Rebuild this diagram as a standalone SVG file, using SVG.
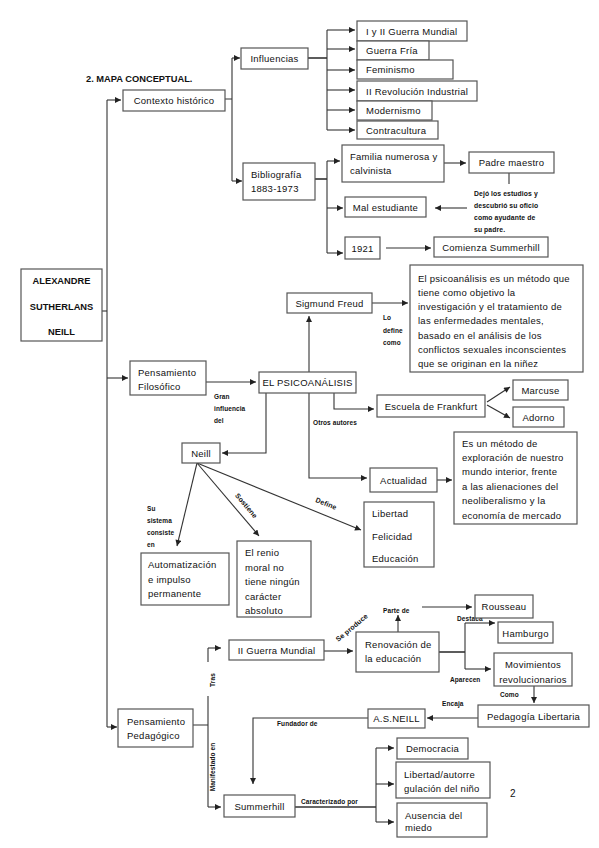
<svg xmlns="http://www.w3.org/2000/svg" width="599" height="848" viewBox="0 0 599 848">
<defs>
<marker id="ah" viewBox="0 0 10 10" refX="10" refY="5" markerWidth="7" markerHeight="6" orient="auto" markerUnits="userSpaceOnUse"><path d="M0,0 L10,5 L0,10 z" fill="#222"/></marker>
<style>
rect{fill:#fff;stroke:#555;stroke-width:1.2}
text{font-family:"Liberation Sans",Arial,sans-serif;font-size:9.5px;fill:#111;letter-spacing:0.25px}
.c{text-anchor:middle}
.b{font-weight:bold}
.lb{font-weight:bold;font-size:6.5px;letter-spacing:0.1px}
.nt{font-weight:bold;font-size:6.8px;letter-spacing:0.1px}
#connectors path,#connectors line{fill:none;stroke:#333;stroke-width:1.1}
.a{marker-end:url(#ah)}
</style>
</defs>
<rect x="0" y="0" width="599" height="848" style="fill:#fff;stroke:none"/>
<text x="86" y="82" class="b" style="font-size:9.3px;letter-spacing:0">2. MAPA CONCEPTUAL.</text>

<g id="connectors">
<path d="M102,311 H107"/>
<path d="M107,100 V727"/>
<path class="a" d="M107,100 H121"/>
<path class="a" d="M107,378 H128"/>
<path class="a" d="M107,727 H117"/>
<path d="M225,99 H232 M232,58 V181"/>
<path class="a" d="M232,58 H240"/>
<path class="a" d="M232,181 H242"/>
<path d="M308,58 H327" style="stroke-width:1.6"/>
<path d="M327,30 V130"/>
<path class="a" d="M327,30 H355"/>
<path class="a" d="M327,49 H355"/>
<path class="a" d="M327,70 H355"/>
<path class="a" d="M327,90 H355"/>
<path class="a" d="M327,110 H355"/>
<path class="a" d="M327,130 H355"/>
<path d="M315,179 H327" style="stroke-width:1.6"/>
<path d="M327,161 V253"/>
<path class="a" d="M327,161 H340"/>
<path class="a" d="M327,208 H343"/>
<path class="a" d="M327,253 H343"/>
<path class="a" d="M444,163 H466"/>
<path d="M509,173 V184"/>
<path class="a" d="M467,208 H435"/>
<path class="a" d="M386,248 H431"/>
<path class="a" d="M206,382 H256"/>
<path class="a" d="M309,372 V316"/>
<path class="a" d="M372,303 H408"/>
<path class="a" d="M334,393 V409 H374"/>
<path class="a" d="M487,402 L510,387"/>
<path class="a" d="M487,405 L510,418"/>
<path class="a" d="M266,393 V453 H222"/>
<path class="a" d="M309,393 V478 H367"/>
<path class="a" d="M437,480 H452"/>
<path class="a" d="M197,463 L177,546"/>
<path class="a" d="M197,463 L259,536"/>
<path class="a" d="M197,463 L361,530"/>
<path d="M193,725 H208 M208,648 V662 M208,696 V807"/>
<path class="a" d="M208,648 H221"/>
<path class="a" d="M208,807 H221"/>
<path class="a" d="M324,651 H353"/>
<path class="a" d="M398,632 V615"/>
<path class="a" d="M422,607 H472"/>
<path d="M439,652 H465" style="stroke-width:1.6"/>
<path d="M465,623 V669"/>
<path class="a" d="M465,623 H495"/>
<path class="a" d="M465,669 H491"/>
<path class="a" d="M534,686 V703"/>
<path class="a" d="M478,718 H427"/>
<path class="a" d="M368,718 H253 V784"/>
<path d="M295,807 H376" style="stroke-width:1.6"/>
<path d="M376,748 V822"/>
<path class="a" d="M376,748 H394"/>
<path class="a" d="M376,784 H394"/>
<path class="a" d="M376,822 H394"/>
</g>

<g id="labels">
<text class="lb" x="214" y="399">Gran</text>
<text class="lb" x="214" y="411">influencia</text>
<text class="lb" x="214" y="423">del</text>
<text class="lb" x="383" y="320">Lo</text>
<text class="lb" x="383" y="333">define</text>
<text class="lb" x="383" y="345">como</text>
<text class="lb" x="313" y="425">Otros autores</text>
<text class="lb" x="147" y="511">Su</text>
<text class="lb" x="147" y="523">sistema</text>
<text class="lb" x="147" y="535">consiste</text>
<text class="lb" x="147" y="547">en</text>
<text class="lb c" transform="translate(246,506) rotate(50)" x="0" y="2" style="font-size:7px">Sostiene</text>
<text class="lb c" transform="translate(326,504) rotate(22)" x="0" y="2" style="font-size:7px">Define</text>
<text class="lb c" transform="translate(352,628) rotate(-40)" x="0" y="2" style="font-size:7px">Se produce</text>
<text class="lb" x="383" y="613">Parte de</text>
<text class="lb" x="457" y="621">Destaca</text>
<text class="lb" x="450" y="682">Aparecen</text>
<text class="lb" x="500" y="697">Como</text>
<text class="lb" x="442" y="706">Encaja</text>
<text class="lb" x="277" y="726">Fundador de</text>
<text class="lb" x="301" y="804">Caracterizado por</text>
<text class="lb c" transform="translate(213,680) rotate(-90)" x="0" y="2">Tras</text>
<text class="lb c" transform="translate(213,767) rotate(-90)" x="0" y="2">Manifestado en</text>
<text class="nt" x="474" y="196">Dejó los estudios y</text>
<text class="nt" x="474" y="208">descubrió su oficio</text>
<text class="nt" x="474" y="220">como ayudante de</text>
<text class="nt" x="474" y="232">su padre.</text>
<text x="510" y="797" style="font-size:10px">2</text>
</g>

<g id="n-root"><rect x="21" y="269" width="81" height="72"/>
<text class="c b" x="61.5" y="284" style="font-size:9.3px;letter-spacing:0">ALEXANDRE</text>
<text class="c b" x="61.5" y="310" style="font-size:9.3px;letter-spacing:0">SUTHERLANS</text>
<text class="c b" x="61.5" y="335" style="font-size:9.3px;letter-spacing:0">NEILL</text></g>

<g id="n-contexto"><rect x="123" y="90" width="102" height="21"/><text class="c" x="174" y="104">Contexto histórico</text></g>
<g id="n-influencias"><rect x="241" y="48" width="67" height="21"/><text class="c" x="274.5" y="62">Influencias</text></g>
<g id="n-guerras"><rect x="357" y="21" width="110" height="20"/><text x="366" y="34.5">I y II Guerra Mundial</text></g>
<g id="n-fria"><rect x="357" y="41" width="72" height="19"/><text x="366" y="54">Guerra Fría</text></g>
<g id="n-feminismo"><rect x="357" y="60" width="96" height="19"/><text x="366" y="73">Feminismo</text></g>
<g id="n-revolucion"><rect x="357" y="81" width="120" height="20"/><text x="366" y="94.5">II Revolución Industrial</text></g>
<g id="n-modernismo"><rect x="357" y="101" width="75" height="19"/><text x="366" y="114">Modernismo</text></g>
<g id="n-contracultura"><rect x="357" y="121" width="81" height="18"/><text x="366" y="133.5">Contracultura</text></g>

<g id="n-biblio"><rect x="243" y="163" width="72" height="37"/><text x="251" y="178">Bibliografía</text><text x="251" y="192">1883-1973</text></g>
<g id="n-familia"><rect x="342" y="145" width="102" height="37"/><text x="350" y="160">Familia numerosa y</text><text x="350" y="173.5">calvinista</text></g>
<g id="n-padre"><rect x="469" y="152" width="85" height="21"/><text class="c" x="511.5" y="166">Padre maestro</text></g>
<g id="n-mal"><rect x="345" y="197" width="81" height="20"/><text class="c" x="385.5" y="210.5">Mal estudiante</text></g>
<g id="n-1921"><rect x="345" y="237" width="35" height="22"/><text class="c" x="362.5" y="251.5">1921</text></g>
<g id="n-comienza"><rect x="434" y="237" width="114" height="20"/><text class="c" x="491" y="250.5">Comienza Summerhill</text></g>

<g id="n-filosofico"><rect x="130" y="361" width="76" height="34"/><text x="138" y="376">Pensamiento</text><text x="138" y="390">Filosófico</text></g>
<g id="n-psico"><rect x="259" y="372" width="97" height="21"/><text class="c" x="307.5" y="386">EL PSICOANÁLISIS</text></g>
<g id="n-freud"><rect x="287" y="293" width="85" height="20"/><text class="c" x="329.5" y="306.5">Sigmund Freud</text></g>
<g id="n-definicion"><rect x="410" y="265" width="173" height="107"/>
<text x="418" y="281.5">El psicoanálisis es un método que</text>
<text x="418" y="295.75">tiene como objetivo la</text>
<text x="418" y="310">investigación y el tratamiento de</text>
<text x="418" y="324.25">las enfermedades mentales,</text>
<text x="418" y="338.5">basado en el análisis de los</text>
<text x="418" y="352.75">conflictos sexuales inconscientes</text>
<text x="418" y="367">que se originan en la niñez</text></g>
<g id="n-frankfurt"><rect x="377" y="395" width="108" height="22"/><text class="c" x="431" y="409.5">Escuela de Frankfurt</text></g>
<g id="n-marcuse"><rect x="513" y="380" width="55" height="20"/><text class="c" x="540.5" y="393.5">Marcuse</text></g>
<g id="n-adorno"><rect x="513" y="407" width="51" height="20"/><text class="c" x="538.5" y="420.5">Adorno</text></g>
<g id="n-neill"><rect x="182" y="443" width="38" height="20"/><text class="c" x="201" y="456.5">Neill</text></g>
<g id="n-actualidad"><rect x="370" y="468" width="67" height="24"/><text class="c" x="403.5" y="483.5">Actualidad</text></g>
<g id="n-metodo"><rect x="454" y="432" width="123" height="92"/>
<text x="462" y="446.5">Es un método de</text>
<text x="462" y="460.9">exploración de nuestro</text>
<text x="462" y="475.3">mundo interior, frente</text>
<text x="462" y="489.7">a las alienaciones del</text>
<text x="462" y="504.1">neoliberalismo y la</text>
<text x="462" y="518.5">economía de mercado</text></g>
<g id="n-valores"><rect x="364" y="502" width="70" height="65"/>
<text x="372" y="516.5">Libertad</text><text x="372" y="539.5">Felicidad</text><text x="372" y="561.5">Educación</text></g>
<g id="n-automatizacion"><rect x="141" y="553" width="88" height="52"/>
<text x="148" y="567.5">Automatización</text><text x="148" y="582.5">e impulso</text><text x="148" y="596.5">permanente</text></g>
<g id="n-renio"><rect x="237" y="541" width="74" height="76"/>
<text x="245" y="556">El renio</text><text x="245" y="570.5">moral no</text><text x="245" y="585">tiene ningún</text><text x="245" y="599.5">carácter</text><text x="245" y="614">absoluto</text></g>

<g id="n-pedagogico"><rect x="118" y="709" width="75" height="38"/><text x="127" y="724.5">Pensamiento</text><text x="127" y="738.5">Pedagógico</text></g>
<g id="n-iigm"><rect x="229" y="640" width="95" height="20"/><text class="c" x="276.5" y="653.5">II Guerra Mundial</text></g>
<g id="n-renovacion"><rect x="356" y="632" width="83" height="40"/><text x="365" y="647.5">Renovación de</text><text x="365" y="661.5">la educación</text></g>
<g id="n-rousseau"><rect x="475" y="595" width="58" height="23"/><text class="c" x="504" y="609.5">Rousseau</text></g>
<g id="n-hamburgo"><rect x="498" y="622" width="55" height="21"/><text class="c" x="525.5" y="636.5">Hamburgo</text></g>
<g id="n-movimientos"><rect x="494" y="653" width="78" height="33"/><text class="c" x="533" y="667.5">Movimientos</text><text class="c" x="533" y="682.5">revolucionarios</text></g>
<g id="n-libertaria"><rect x="478" y="705" width="111" height="22"/><text class="c" x="533.5" y="719.5">Pedagogía Libertaria</text></g>
<g id="n-asneill"><rect x="368" y="709" width="57" height="19"/><text class="c" x="396.5" y="722">A.S.NEILL</text></g>
<g id="n-summerhill"><rect x="224" y="795" width="71" height="22"/><text class="c" x="259.5" y="809.5">Summerhill</text></g>
<g id="n-democracia"><rect x="397" y="738" width="71" height="21"/><text class="c" x="432.5" y="752">Democracia</text></g>
<g id="n-autorregulacion"><rect x="396" y="762" width="94" height="36"/><text x="404" y="777.5">Libertad/autorre</text><text x="404" y="791.5">gulación del niño</text></g>
<g id="n-miedo"><rect x="397" y="803" width="90" height="34"/><text x="405" y="818.5">Ausencia del</text><text x="405" y="831">miedo</text></g>
</svg>
